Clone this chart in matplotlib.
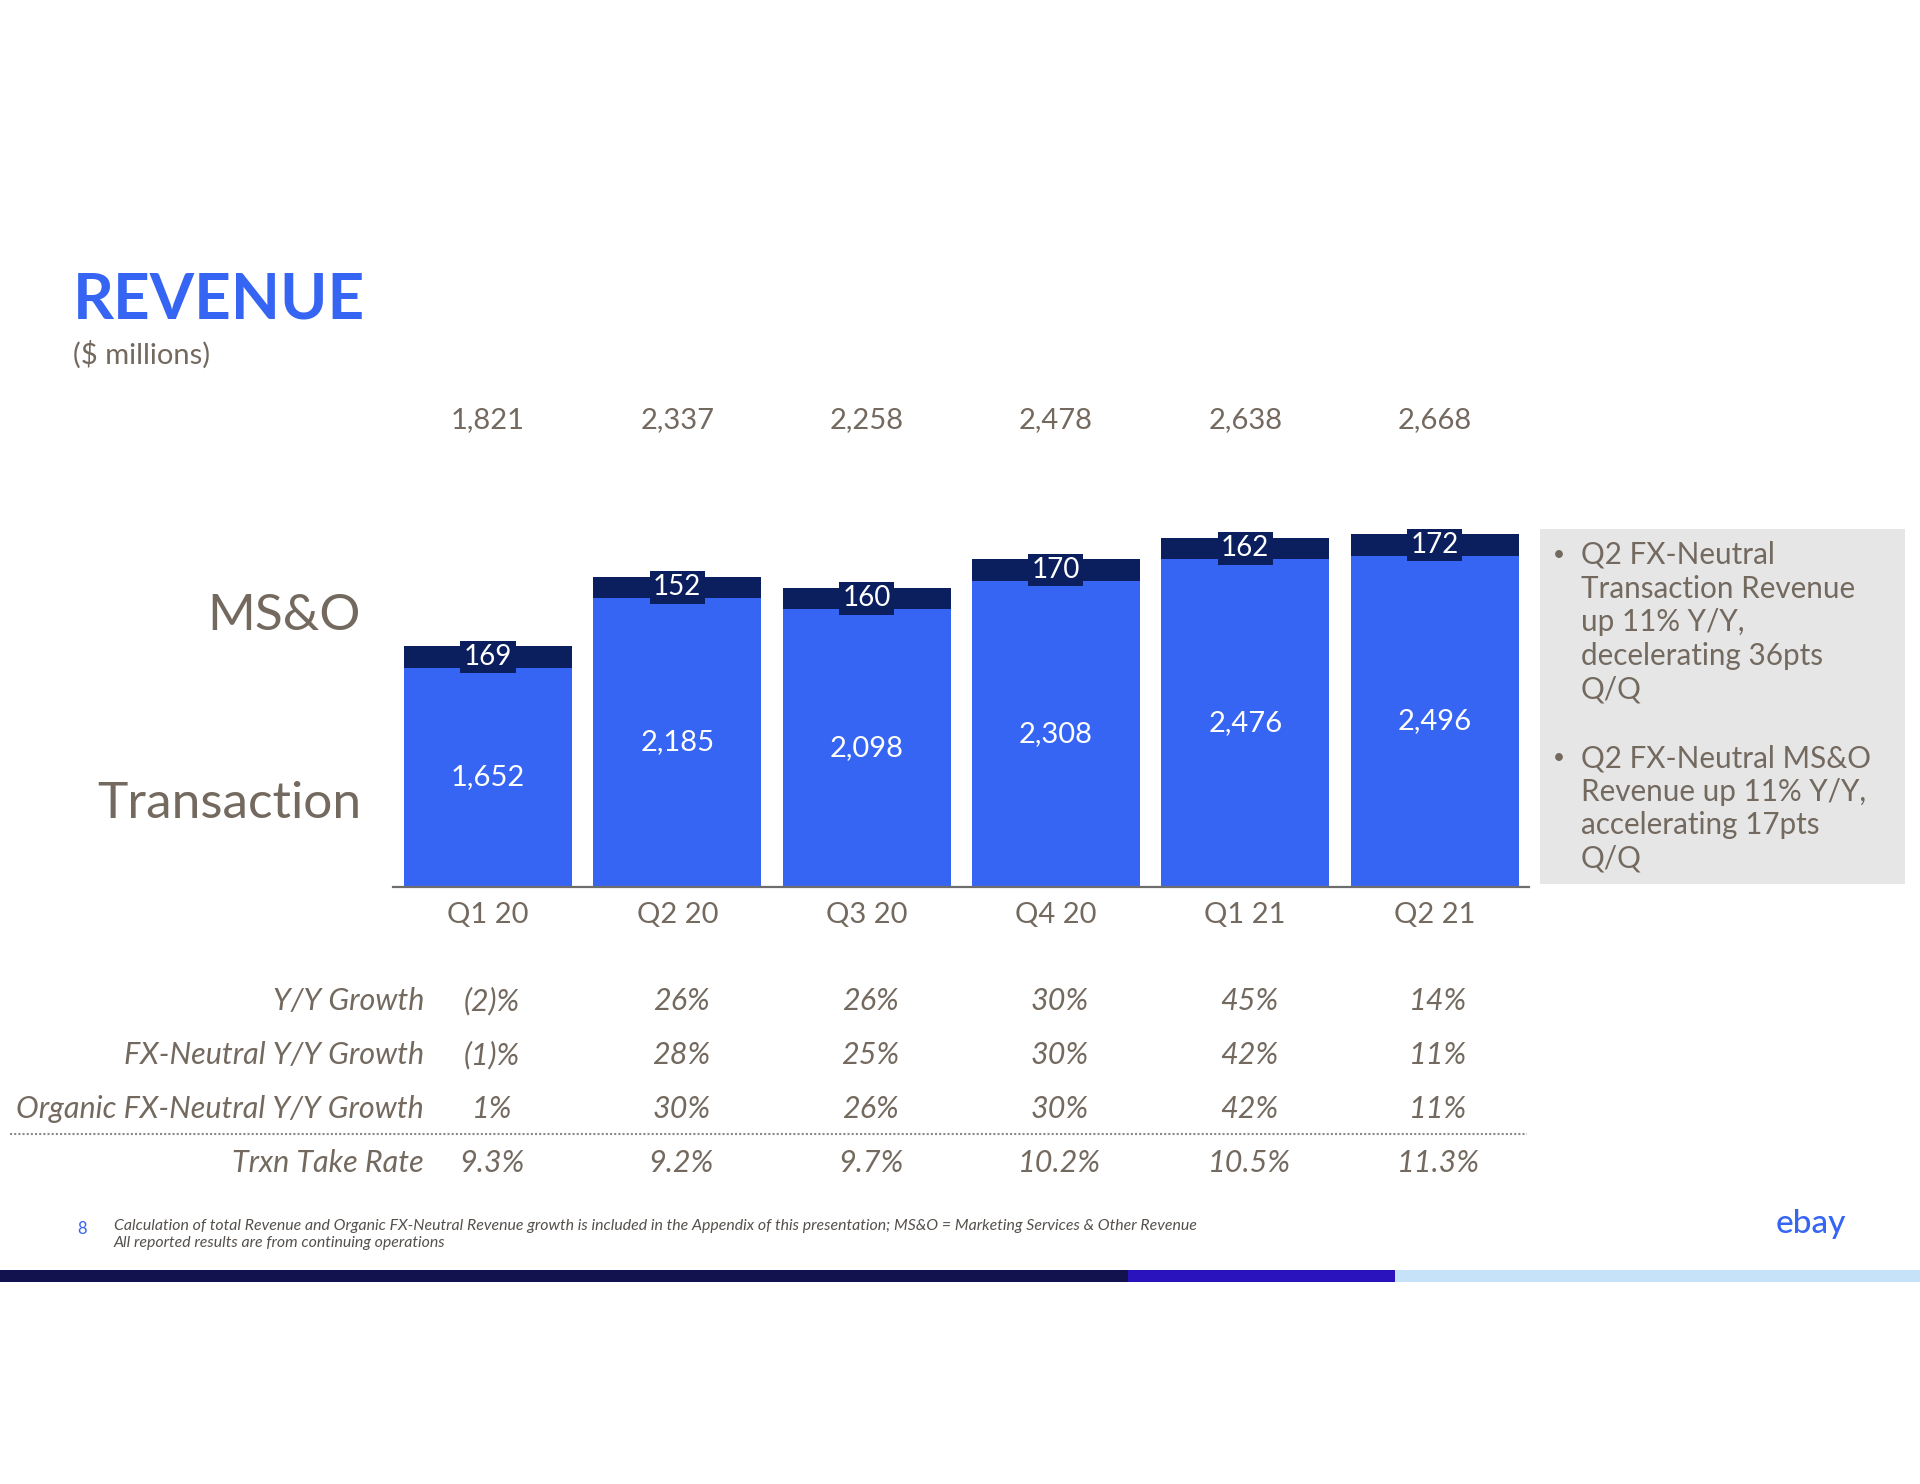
import matplotlib
matplotlib.use("Agg")
import matplotlib.pyplot as plt
import matplotlib.transforms as mtransforms
from matplotlib.patches import Rectangle

# ---------------- data ----------------
quarters = ["Q1 20", "Q2 20", "Q3 20", "Q4 20", "Q1 21", "Q2 21"]
transaction = [1652, 2185, 2098, 2308, 2476, 2496]
mso = [169, 152, 160, 170, 162, 172]
row_labels = ["Y/Y Growth", "FX-Neutral Y/Y Growth",
              "Organic FX-Neutral Y/Y Growth", "Trxn Take Rate"]
yy_growth = ["(2)%", "26%", "26%", "30%", "45%", "14%"]
fxn_growth = ["(1)%", "28%", "25%", "30%", "42%", "11%"]
org_growth = ["1%", "30%", "26%", "30%", "42%", "11%"]
take_rate = ["9.3%", "9.2%", "9.7%", "10.2%", "10.5%", "11.3%"]
bullets = [
    ["Q2 FX-Neutral", "Transaction Revenue", "up 11% Y/Y,",
     "decelerating 36pts", "Q/Q"],
    ["Q2 FX-Neutral MS&O", "Revenue up 11% Y/Y,", "accelerating 17pts",
     "Q/Q"],
]
footnote = ["Calculation of total Revenue and Organic FX-Neutral Revenue growth is "
            "included in the Appendix of this presentation; MS&O = Marketing Services & Other Revenue",
            "All reported results are from continuing operations"]

# ---------------- style ----------------
FONT = "Lato"
BLUE = "#3665f3"
NAVY = "#0b1f5e"
GREY = "#73695f"
W, H = 1920, 1484

plt.rcParams["font.family"] = [FONT, "DejaVu Sans"]

fig = plt.figure(figsize=(W / 100, H / 100), dpi=100)
fig.patch.set_facecolor("white")


def fx(x):
    return x / W


def fy(y):
    return 1 - y / H


# axes geometry (pixels)
step = 189.3
c0 = 488.0
base = 886.6
ppu = 0.1323  # pixels per $M
ymax = 3600
left_px = c0 - 0.5 * step
ax = fig.add_axes([fx(left_px), fy(base), 6 * step / W, ymax * ppu / H])
ax.set_xlim(-0.5, 5.5)
ax.set_ylim(0, ymax)
x = list(range(len(quarters)))
bw = 168 / step
ax.bar(x, transaction, width=bw, color=BLUE, zorder=2)
ax.bar(x, mso, width=bw, bottom=transaction, color=NAVY, zorder=2)

for i in x:
    ax.text(i, transaction[i] / 2, f"{transaction[i]:,}", ha="center",
            va="center", color="white", fontsize=21)
    ax.text(i, transaction[i] + mso[i] / 2, f"{mso[i]:,}", ha="center",
            va="center", color="white", fontsize=20, zorder=3,
            bbox=dict(boxstyle="square,pad=0.12", fc=NAVY, ec="none"))

trans_top = mtransforms.blended_transform_factory(ax.transData, fig.transFigure)
for i in x:
    total = transaction[i] + mso[i]
    ax.text(i, fy(420), f"{total:,}", transform=trans_top, ha="center",
            va="center", color=GREY, fontsize=21)

for s in ["top", "left", "right"]:
    ax.spines[s].set_visible(False)
ax.spines["bottom"].set_color("#6e6e6e")
ax.spines["bottom"].set_linewidth(1.6)
ax.set_yticks([])
ax.set_xticks(x, quarters)
ax.tick_params(axis="x", length=0, pad=11, labelsize=21, labelcolor=GREY)
ax.patch.set_alpha(0)

# title
fig.text(fx(73), fy(300), "REVENUE", fontsize=46, fontweight="bold",
         color=BLUE, va="center", ha="left")
fig.text(fx(73), fy(355), "($ millions)", fontsize=21, color=GREY,
         va="center", ha="left")

# left segment labels
fig.text(fx(361), fy(616), "MS&O", fontsize=37, color=GREY, ha="right", va="center")
fig.text(fx(361), fy(804), "Transaction", fontsize=37, color=GREY, ha="right", va="center")

# table
rows = [yy_growth, fxn_growth, org_growth, take_rate]
row_y = [1001, 1055, 1109, 1163]
for lab, vals, yy in zip(row_labels, rows, row_y):
    fig.text(fx(424), fy(yy), lab, fontsize=22, style="italic", color=GREY,
             ha="right", va="center")
    for i, v in enumerate(vals):
        fig.text(fx(c0 + 4 + i * step), fy(yy), v, fontsize=22, style="italic",
                 color=GREY, ha="center", va="center")
fig.add_artist(plt.Line2D([fx(10), fx(1527)], [fy(1134), fy(1134)],
                          color="#8a8a8a", linewidth=1.5, linestyle=(0, (1, 1))))

# right-side commentary box
fig.add_artist(Rectangle((fx(1540), fy(884)), fx(1905) - fx(1540),
                         (884 - 529) / H, transform=fig.transFigure,
                         facecolor="#e6e6e6", edgecolor="none"))
line_h = 33.6
starts = [555, 758]
for blk, y0 in zip(bullets, starts):
    fig.text(fx(1553), fy(y0), "•", fontsize=15, color=GREY, ha="left", va="center")
    for k, line in enumerate(blk):
        fig.text(fx(1581), fy(y0 + k * line_h), line, fontsize=21.3, color=GREY,
                 ha="left", va="center")

# footer
fig.text(fx(77), fy(1229), "8", fontsize=12, color=BLUE, ha="left", va="center")
fig.text(fx(114), fy(1226), footnote[0], fontsize=11.4, style="italic",
         color="#55504b", ha="left", va="center")
fig.text(fx(114), fy(1243), footnote[1], fontsize=11.4, style="italic",
         color="#55504b", ha="left", va="center")
fig.text(fx(1776), fy(1224), "ebay", fontsize=24, color=BLUE, ha="left",
         va="center", fontweight="medium")

# bottom colour strip
for (x0, x1, col) in [(0, 1128, "#12124f"), (1128, 1395, "#2a13bd"),
                      (1395, 1920, "#c5e2f8")]:
    fig.add_artist(Rectangle((fx(x0), fy(1282)), (x1 - x0) / W, 12 / H,
                             transform=fig.transFigure, facecolor=col,
                             edgecolor="none"))

fig.savefig("out.png", dpi=100, facecolor="white")
